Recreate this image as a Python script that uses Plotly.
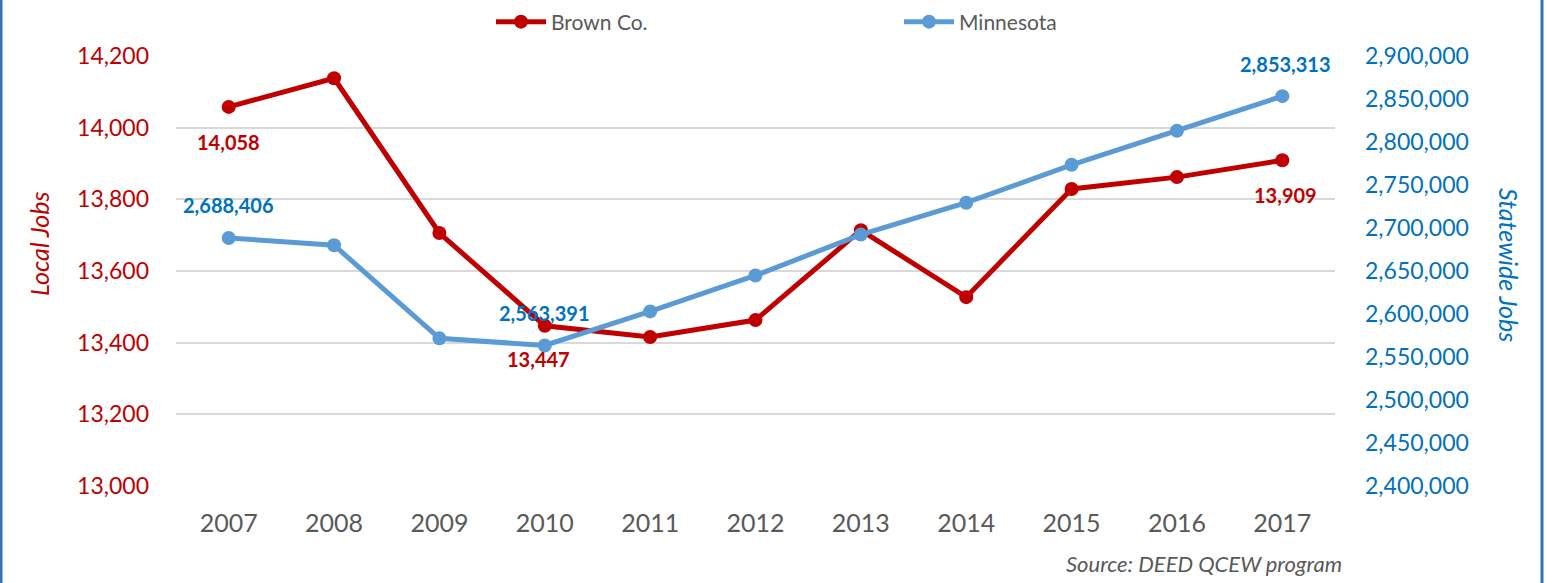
import plotly.graph_objects as go

years = ["2007", "2008", "2009", "2010", "2011", "2012", "2013", "2014", "2015", "2016", "2017"]
brown = [14058, 14138, 13706, 13447, 13416, 13463, 13714, 13527, 13829, 13862, 13909]
minnesota = [2688406, 2680000, 2571700, 2563391, 2603000, 2644800, 2692300, 2729400, 2773500, 2813000, 2853313]

left_ticks = [13000, 13200, 13400, 13600, 13800, 14000, 14200]
right_ticks = [2400000, 2450000, 2500000, 2550000, 2600000, 2650000, 2700000, 2750000, 2800000, 2850000, 2900000]

RED = "#C00000"
LBLUE = "#5B9BD5"
DBLUE = "#0070C0"
GRAY = "#595959"
FONT = "Lato"

W, H = 1546, 583
L, R, T, B = 176, 211, 56, 97
PW, PH = W - L - R, H - T - B

fig = go.Figure()
fig.add_trace(go.Scatter(x=years, y=brown, name="Brown Co.", mode="lines+markers",
                         line=dict(color=RED, width=5), marker=dict(size=14, color=RED)))
fig.add_trace(go.Scatter(x=years, y=minnesota, name="Minnesota", mode="lines+markers", yaxis="y2",
                         line=dict(color=LBLUE, width=5), marker=dict(size=14, color=LBLUE)))

# data labels (x given as category index)
brown_lab = {0: (0, -35), 3: (-6, -33), 10: (3, -35)}
for i, (dx, dy) in brown_lab.items():
    fig.add_annotation(x=i, y=brown[i], xref="x", yref="y", text=f"<b>{brown[i]:,}</b>",
                       showarrow=False, xshift=dx, yshift=dy,
                       font=dict(family=FONT, size=20, color=RED))
mn_lab = {0: (0, 33), 3: (0, 32), 10: (3, 32)}
for i, (dx, dy) in mn_lab.items():
    fig.add_annotation(x=i, y=minnesota[i], xref="x", yref="y2", text=f"<b>{minnesota[i]:,}</b>",
                       showarrow=False, xshift=dx, yshift=dy,
                       font=dict(family=FONT, size=20, color=DBLUE))

fig.add_annotation(x=(22 - L) / PW, y=(H - B - 244) / PH, xref="paper", yref="paper", text="<i>Local Jobs</i>",
                   textangle=-90, showarrow=False, font=dict(family=FONT, size=25, color=RED))
fig.add_annotation(x=(1526 - L) / PW, y=(H - B - 265) / PH, xref="paper", yref="paper", text="<i>Statewide Jobs</i>",
                   textangle=90, showarrow=False, font=dict(family=FONT, size=25, color=DBLUE))
fig.add_annotation(x=(1344 - L) / PW, y=(H - B - 563) / PH, xref="paper", yref="paper",
                   text="<i>Source: DEED QCEW program</i>", xanchor="right", yanchor="middle",
                   showarrow=False, font=dict(family=FONT, size=22, color=GRAY))

# border
for xp in [1, 1542]:
    fig.add_shape(type="line", xref="paper", yref="paper", x0=(xp - L) / PW, x1=(xp - L) / PW,
                  y0=-B / PH, y1=1 + T / PH, line=dict(color="#2E75B6", width=3))

fig.update_layout(
    width=W, height=H,
    margin=dict(l=L, r=R, t=T, b=B, autoexpand=False),
    paper_bgcolor="white", plot_bgcolor="white",
    font=dict(family=FONT),
    showlegend=True,
    legend=dict(orientation="h", xref="container", yref="container",
                x=491 / W, xanchor="left", y=1 - 22 / H, yanchor="middle",
                font=dict(family=FONT, size=21, color=GRAY), entrywidth=343, entrywidthmode="pixels",
                itemwidth=50, bgcolor="rgba(0,0,0,0)"),
    xaxis=dict(type="category", range=[-0.5, 10.5], tickfont=dict(family=FONT, size=25, color=GRAY),
               showgrid=False, showline=False, ticks="", ticklabelstandoff=20),
    yaxis=dict(range=[13000, 14200], tickvals=left_ticks, tickformat=",", showgrid=True,
               gridcolor="#D9D9D9", gridwidth=2, zeroline=False,
               tickfont=dict(family=FONT, size=23, color=RED), ticklabelstandoff=26),
    yaxis2=dict(range=[2400000, 2900000], tickvals=right_ticks, tickformat=",", overlaying="y",
                side="right", showgrid=False, zeroline=False,
                tickfont=dict(family=FONT, size=23, color=DBLUE), ticklabelstandoff=29),
)

fig.write_html("out.html", post_script="document.body.style.margin='0';",
               config=dict(displayModeBar=False))
